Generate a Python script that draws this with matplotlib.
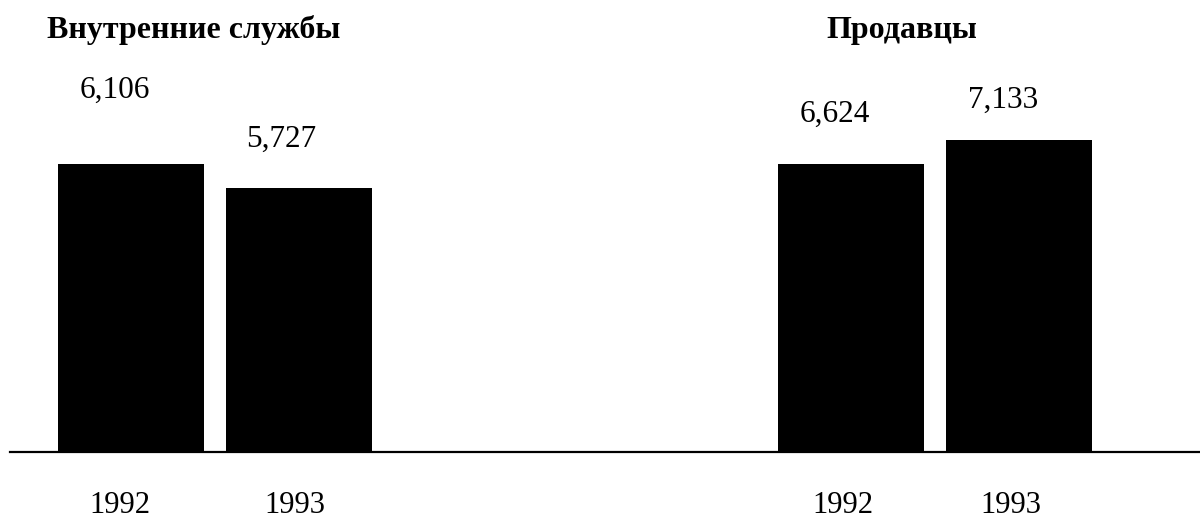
import matplotlib
matplotlib.use('Agg')
import matplotlib.pyplot as plt
from matplotlib.lines import Line2D

plt.rcParams['font.family'] = ['Liberation Serif', 'DejaVu Serif']

# Data
titles = ['Внутренние службы', 'Продавцы']
years = ['1992', '1993']
values_internal = [6106, 5727]
values_sales = [6624, 7133]
panel_values = [values_internal, values_sales]

# layout (pixels on a 1200x520 canvas)
W, H = 1200, 520
base_px = 452
panel_left_px = [0, 600]
first_center_px = [131, 851]
step_px = 168
bar_w = 146 / step_px
ylims = [(1558, 8696), (516, 10102)]
title_x_px = [193.5, 902]
title_base_px = 38
# label offsets in pixels (dx, dy from bar top)
val_offsets = [[(-16, 66), (-18, 41)], [(-16, 42), (-16, 32)]]
year_dx = [[-11, -4], [-8, -8]]

fig = plt.figure(figsize=(12, 5.2), dpi=100)

for i, vals in enumerate(panel_values):
    left = panel_left_px[i]
    c0 = first_center_px[i] - left
    ax = fig.add_axes([left / W, 1 - base_px / H, 600 / W, base_px / H])
    ax.set_xlim(-c0 / step_px, (600 - c0) / step_px)
    ax.set_ylim(*ylims[i])
    xs = list(range(len(vals)))
    ax.bar(xs, vals, width=bar_w, color='black')
    for x, v, (dx, dy), yr, ydx in zip(xs, vals, val_offsets[i], years, year_dx[i]):
        ax.annotate(f'{v:,}', xy=(x, v), xytext=(dx, dy), textcoords='offset pixels',
                    ha='center', va='baseline', fontsize=22.5)
        ax.annotate(yr, xy=(x, ylims[i][0]), xytext=(ydx, -61), textcoords='offset pixels',
                    ha='center', va='baseline', fontsize=22, annotation_clip=False)
    ax.axis('off')
    fig.text(title_x_px[i] / W, 1 - title_base_px / H, titles[i], ha='center',
             va='baseline', fontsize=23, fontweight='bold')

fig.add_artist(Line2D([10 / W, 1], [1 - base_px / H] * 2, color='black', lw=1.6))

fig.savefig('out.png', dpi=100)
